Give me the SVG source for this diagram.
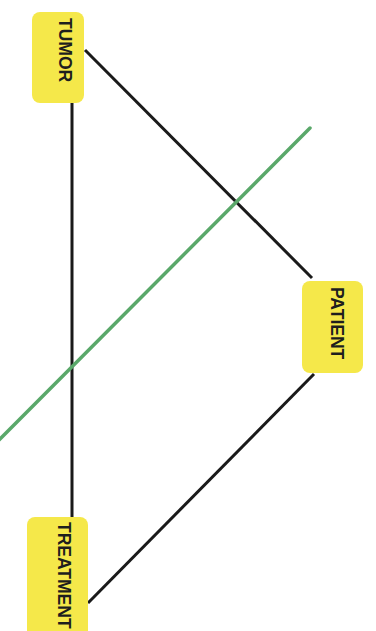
<svg xmlns="http://www.w3.org/2000/svg" width="376" height="631" viewBox="0 0 376 631">
<style>
.box{fill:#f5e84a;}
.lbl{font-family:"Liberation Sans",Arial,sans-serif;font-weight:bold;font-size:17.5px;fill:#1e1e1e;}
.edge{stroke:#1a1a1a;stroke-width:3;fill:none;}
.cut{stroke:#5aa86a;stroke-width:3.5;fill:none;stroke-linecap:round;}
</style>
<rect width="376" height="631" fill="#ffffff"/>
<g id="connectors">
<line class="edge" x1="85" y1="50" x2="312" y2="278"/>
<line class="edge" x1="72" y1="103" x2="72" y2="518"/>
<line class="edge" x1="314" y1="374" x2="88" y2="603"/>
<line class="cut" x1="310" y1="128" x2="-2" y2="441"/>
</g>
<g id="tumor">
<rect class="box" x="32" y="12" width="52" height="91" rx="8"/>
<text class="lbl" transform="translate(58.5,18) rotate(90)">TUMOR</text>
</g>
<g id="patient">
<rect class="box" x="302" y="281" width="61" height="92" rx="8"/>
<text class="lbl" transform="translate(330.5,287) rotate(90)">PATIENT</text>
</g>
<g id="treatment">
<rect class="box" x="27" y="517" width="61" height="130" rx="8"/>
<text class="lbl" transform="translate(58,522) rotate(90)">TREATMENT</text>
</g>
</svg>
